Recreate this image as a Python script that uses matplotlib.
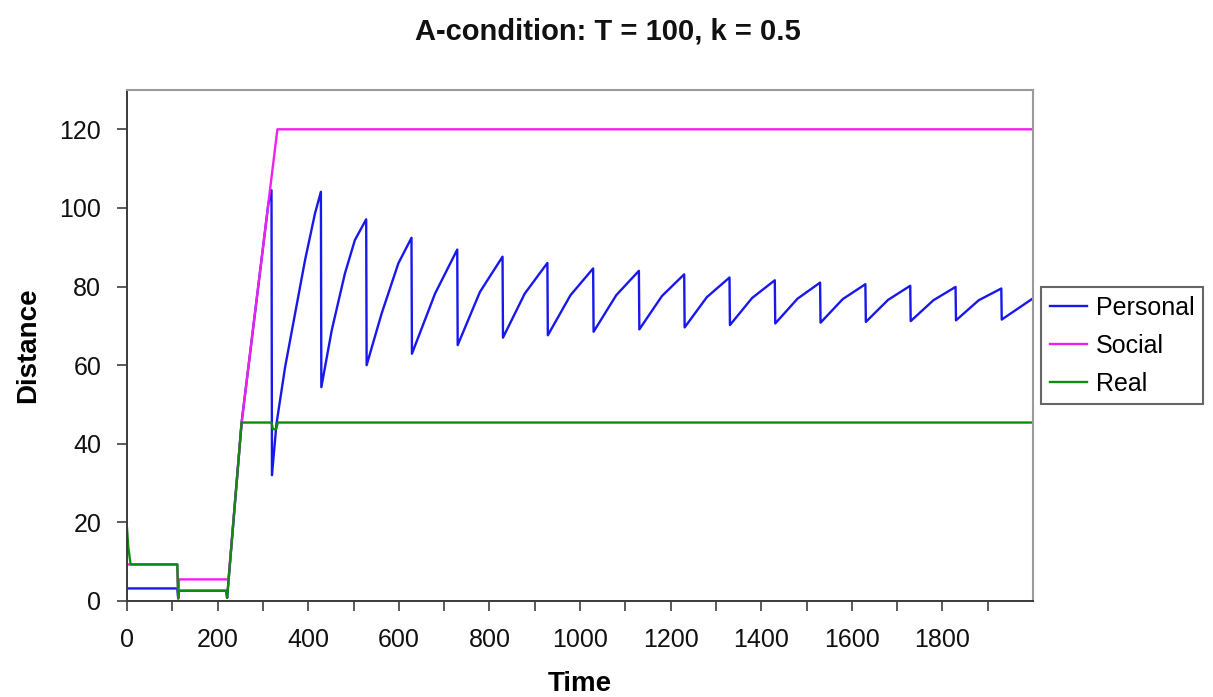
import matplotlib
matplotlib.use('Agg')
import matplotlib.pyplot as plt

plt.rcParams['font.family'] = ['Liberation Sans', 'DejaVu Sans']

# values (time, distance) -- breakpoints only
personal_t = [0, 111, 113, 115, 219, 221, 253, 312, 319, 320, 330, 349, 371, 393, 415, 428,
              429, 452, 481, 503, 528, 529, 562, 599, 628, 629, 680, 729,
              730, 779, 829, 830, 878, 928, 929, 979, 1029, 1030, 1080, 1130,
              1131, 1181, 1230, 1231, 1280, 1330, 1331, 1380, 1430, 1431, 1480, 1530,
              1531, 1580, 1630, 1631, 1680, 1729, 1730, 1780, 1829, 1830, 1880, 1930,
              1931, 2000]
personal_v = [3.2, 3.2, 0.8, 2.6, 2.6, 0.8, 45.4, 101.0, 104.5, 32.0, 45.1, 59.5, 73.1, 86.7, 98.6, 104.1,
              54.4, 68.9, 83.3, 91.8, 97.1, 60.0, 73.1, 85.9, 92.4, 62.9, 78.2, 89.4,
              65.1, 78.6, 87.6, 67.0, 78.2, 86.0, 67.6, 77.8, 84.6, 68.5, 77.8, 84.0,
              69.1, 77.6, 83.1, 69.6, 77.3, 82.3, 70.2, 77.1, 81.6, 70.6, 76.9, 81.0,
              70.8, 76.8, 80.6, 71.0, 76.6, 80.2, 71.2, 76.5, 79.9, 71.4, 76.5, 79.5,
              71.6, 77.0]

social_t = [0, 111, 113, 115, 219, 224, 253, 332, 2000]
social_v = [9.3, 9.3, 0.5, 5.5, 5.5, 5.5, 45.4, 120.0, 120.0]

real_t = [0, 3, 8, 111, 113, 115, 219, 221, 253, 319, 322, 329, 333, 2000]
real_v = [18.5, 13.5, 9.3, 9.3, 0.8, 2.6, 2.6, 0.8, 45.4, 45.4, 43.7, 43.7, 45.4, 45.4]

x_ticks = list(range(0, 2000, 100))
x_tick_labels = ['0', '', '200', '', '400', '', '600', '', '800', '', '1000', '',
                 '1200', '', '1400', '', '1600', '', '1800', '']
y_ticks = [0, 20, 40, 60, 80, 100, 120]

W, H = 1213, 697
fig = plt.figure(figsize=(W / 100, H / 100), dpi=100)
ax = fig.add_axes([127 / W, 1 - 601 / H, (1033 - 127) / W, (601 - 90) / H])

l1, = ax.plot(personal_t, personal_v, color='#1818ec', lw=1.7, label='Personal')
l2, = ax.plot(social_t, social_v, color='#f020f0', lw=1.7, label='Social')
l3, = ax.plot(real_t, real_v, color='#108a10', lw=1.7, label='Real')

ax.set_xlim(0, 2000)
ax.set_ylim(0, 130)
ax.set_xticks(x_ticks, labels=x_tick_labels)
ax.set_yticks(y_ticks)

ax.tick_params(axis='both', direction='out', length=7.5, width=1.2, color='#404040',
               labelsize=18, labelcolor='#111111')
ax.tick_params(axis='x', pad=12)
ax.tick_params(axis='y', pad=11)

for side in ['top', 'right']:
    ax.spines[side].set_color('#9a9a9a')
    ax.spines[side].set_linewidth(1.5)
for side in ['left', 'bottom']:
    ax.spines[side].set_color('#3a3a3a')
    ax.spines[side].set_linewidth(1.4)

ax.set_xlabel('Time', fontsize=20, fontweight='bold')
ax.xaxis.label.set_va('center')
ax.xaxis.set_label_coords(580 / W, 1 - 684 / H, transform=fig.transFigure)
ax.set_ylabel('Distance', fontsize=20, fontweight='bold')
ax.yaxis.label.set_va('center')
ax.yaxis.set_label_coords(28 / W, 1 - 345 / H, transform=fig.transFigure)

fig.text(608 / W, 1 - 31 / H, 'A-condition: T = 100, k = 0.5', ha='center', va='center',
         fontsize=21, fontweight='bold', color='#111111')

leg = fig.legend(handles=[l1, l2, l3], loc='center left',
                 bbox_to_anchor=(1041 / W, 1 - 346 / H), frameon=True, fancybox=False,
                 edgecolor='#404040', fontsize=18, handlelength=1.5, handletextpad=0.35,
                 labelspacing=0.55, borderpad=0.35, borderaxespad=0)
leg.get_frame().set_linewidth(1.5)

fig.savefig('out.png', dpi=100)
